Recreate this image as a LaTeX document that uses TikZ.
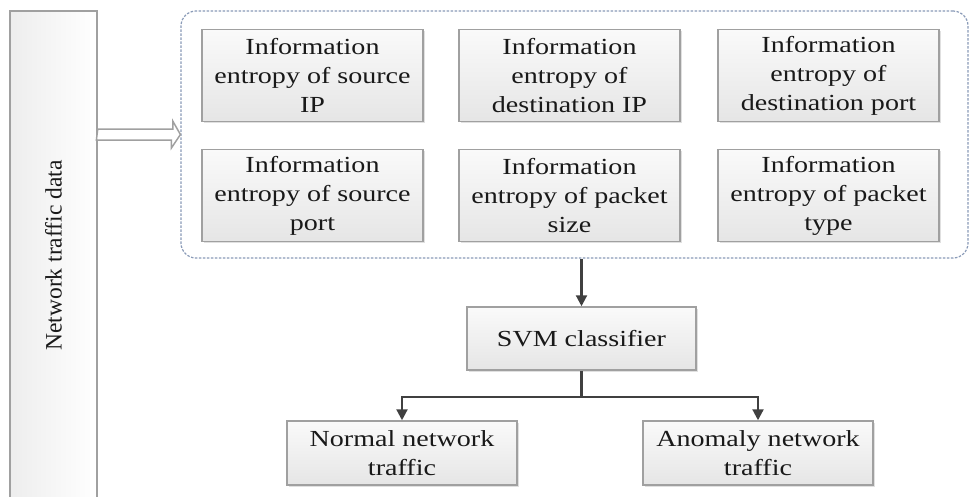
\documentclass[tikz,border=0pt]{standalone}
\usepackage{fontspec}
\setmainfont{Liberation Serif}[FakeStretch=1.22]
\newfontfamily\plainserif{Liberation Serif}
\usetikzlibrary{arrows.meta,shadows,calc}
\definecolor{dashblue}{HTML}{8A9BB8}
\definecolor{boxedge}{HTML}{A0A0A0}
\definecolor{linegray}{HTML}{404040}
\begin{document}
\begin{tikzpicture}[x=1pt,y=-1pt,
  fbox/.style={draw=boxedge, line width=1.5pt, top color=gray!4, bottom color=gray!20,
    drop shadow={shadow xshift=1.5pt, shadow yshift=-1.5pt, fill=gray!40, opacity=0.6},
    align=center, inner sep=0pt, text=black!90, font=\fontsize{23}{29}\selectfont},
  infobox/.style={fbox, minimum width=221pt, minimum height=92pt},
  outbox/.style={fbox, minimum width=230pt, minimum height=64pt},
  conn/.style={draw=linegray, line width=2.2pt, -{Triangle[length=11pt,width=11pt]}},
  link/.style={draw=linegray, line width=2.2pt}
]
\useasboundingbox (0,0) rectangle (971,496);
\fill[white] (0,0) rectangle (971,496);

% left bar
\node[draw=boxedge, line width=1.5pt, left color=gray!14, right color=white,
      minimum width=87pt, minimum height=489pt, inner sep=0pt] (bar) at (53.5,255.5) {};
\node[rotate=90, font=\plainserif\fontsize{23.5}{28}\selectfont, text=black!90] (bartext) at (bar.center) {Network traffic data};

% dashed container
\node[draw=dashblue, line width=1.2pt, dash pattern=on 2.5pt off 1.5pt, rounded corners=15pt,
      minimum width=787pt, minimum height=247pt, inner sep=0pt] (container) at (574.5,134.5) {};

% feature boxes
\node[infobox] (b1) at (312.5,75.5) {Information\\entropy of source\\IP};
\node[infobox] (b2) at (569.5,75.5) {Information\\entropy of\\destination IP};
\node[infobox] (b3) at (828.5,75.5) {Information\\entropy of\\destination port};
\node[infobox] (b4) at (312.5,195.5) {Information\\entropy of source\\port};
\node[infobox] (b5) at (569.5,195.5) {Information\\entropy of packet\\size};
\node[infobox] (b6) at (828.5,195.5) {Information\\entropy of packet\\type};

% classifier and outputs
\node[fbox, minimum width=229pt, minimum height=63pt] (svm) at (581.5,338.5) {SVM classifier};
\node[outbox] (normal) at (402,453) {Normal network\\traffic};
\node[outbox] (anomaly) at (758,453) {Anomaly network\\traffic};

% hollow block arrow from bar to container
\draw[draw=boxedge, line width=1.5pt, fill=white, line join=miter]
  (bar.east |- container.west) ++(0,-5.5) -- ++(75,0) -- ++(0,-8) -- (container.west)
  -- ++(-9,13.5) -- ++(0,-8) -- ++(-75,0) -- cycle;

% connectors
\draw[conn] (svm.north |- container.south) -- (svm.north);
\coordinate (split) at ($(svm.south)+(0,26)$);
\draw[link] (svm.south) -- (split);
\draw[conn] (split) -| (normal.north);
\draw[conn] (split) -| (anomaly.north);
\end{tikzpicture}
\end{document}
